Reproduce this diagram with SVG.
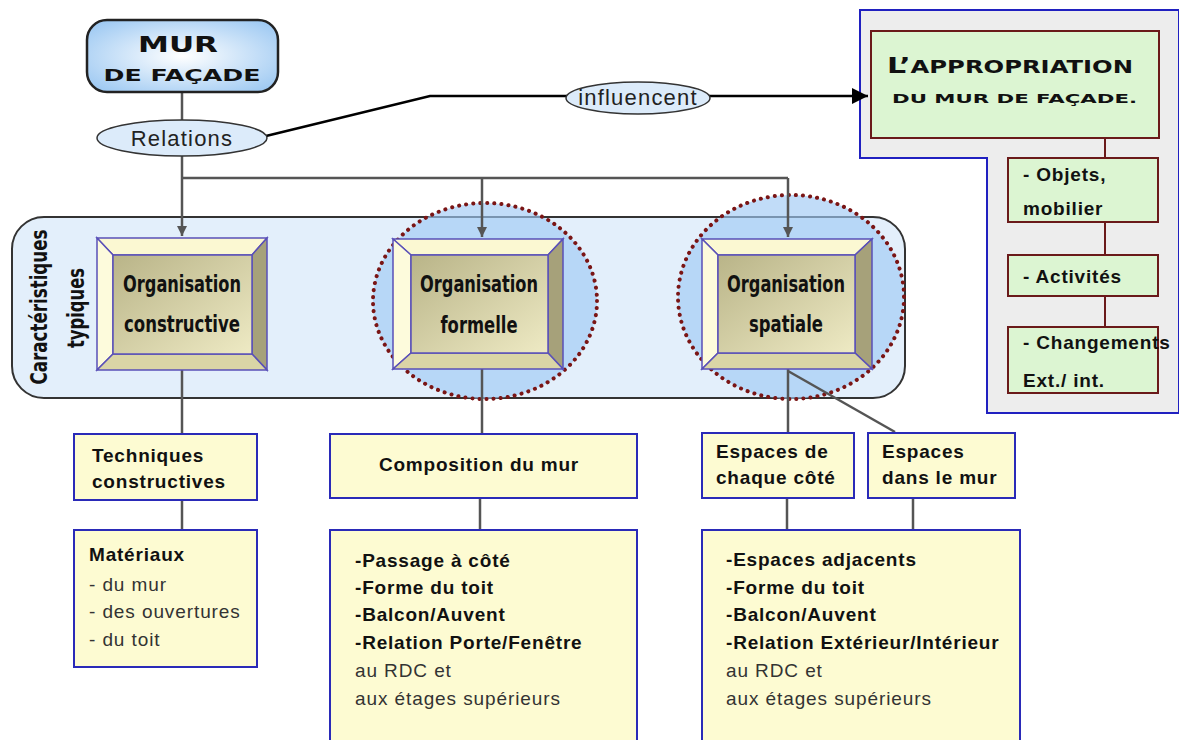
<svg xmlns="http://www.w3.org/2000/svg" width="1179" height="740" viewBox="0 0 1179 740">
<defs>
<radialGradient id="gMur" cx="50%" cy="50%" r="65%">
<stop offset="0" stop-color="#ffffff"/><stop offset="1" stop-color="#9cc8f2"/>
</radialGradient>
<linearGradient id="gFace" x1="0" y1="0" x2="1" y2="1">
<stop offset="0" stop-color="#b9b488"/><stop offset="1" stop-color="#eeeac4"/>
</linearGradient>
<marker id="arrGray" viewBox="0 0 10 10" refX="10" refY="5" markerWidth="24" markerHeight="10" markerUnits="userSpaceOnUse" orient="auto">
<path d="M0,0 L10,5 L0,10 z" fill="#555"/>
</marker>
<marker id="arrBlack" viewBox="0 0 10 10" refX="10" refY="5" markerWidth="18" markerHeight="16" markerUnits="userSpaceOnUse" orient="auto">
<path d="M0,0 L10,5 L0,10 z" fill="#000"/>
</marker>
<style>
.cap{font-family:"DejaVu Sans","Liberation Sans",sans-serif;font-weight:bold;fill:#111}
.lbl{font-family:"Liberation Sans",Arial,sans-serif;fill:#222;font-size:22px;letter-spacing:1.2px}
.b{font-family:"Liberation Sans",Arial,sans-serif;font-weight:bold;fill:#111;font-size:19px;letter-spacing:0.8px}
.n{font-family:"Liberation Sans",Arial,sans-serif;fill:#333;font-size:19px;letter-spacing:0.9px}
.org{font-family:"DejaVu Sans Condensed","Liberation Sans Narrow","Liberation Sans",sans-serif;font-weight:bold;fill:#111;font-size:23px}
.ybox{fill:#fdfbd2;stroke:#2a2ab8;stroke-width:2}
.gbox{fill:#dcf5d2;stroke:#6a1a1a;stroke-width:2}
.bev{stroke:#5a50b8;stroke-width:1.5}
.ln{stroke:#555;stroke-width:2.5;fill:none}
.dr{stroke:#6a1a1a;stroke-width:2;fill:none}
.dot{fill:#9fcaf5;fill-opacity:0.65;stroke:#7a1515;stroke-width:4;stroke-dasharray:0.1 7;stroke-linecap:round}
</style>
</defs>

<g id="panel-appropriation">
<polygon points="860,10 1179,10 1179,413 987,413 987,158 860,158" fill="#ededed" stroke="#2020c0" stroke-width="2"/>
</g>

<g id="caracteristiques">
<rect x="12" y="217" width="893" height="181" rx="32" fill="#e3effb" stroke="#333" stroke-width="2"/>
<text class="org" transform="translate(47,307) rotate(-90)" text-anchor="middle" textLength="155" lengthAdjust="spacingAndGlyphs">Caractéristiques</text>
<text class="org" transform="translate(84,308) rotate(-90)" text-anchor="middle" textLength="80" lengthAdjust="spacingAndGlyphs">typiques</text>
</g>

<g id="highlights">
<ellipse class="dot" cx="485" cy="301" rx="112" ry="98"/>
<ellipse class="dot" cx="791" cy="297" rx="113" ry="102"/>
</g>

<g id="connectors">
<line class="ln" x1="182" y1="92" x2="182" y2="120" stroke="#333"/>
<line class="ln" x1="182" y1="156" x2="182" y2="236" marker-end="url(#arrGray)"/>
<line class="ln" x1="182" y1="178" x2="788" y2="178"/>
<line class="ln" x1="482" y1="178" x2="482" y2="237" marker-end="url(#arrGray)"/>
<line class="ln" x1="788" y1="178" x2="788" y2="237" marker-end="url(#arrGray)"/>
<polyline points="266,136 430,96 868,96" fill="none" stroke="#000" stroke-width="2.5" marker-end="url(#arrBlack)"/>
<line class="ln" x1="182" y1="370" x2="182" y2="433"/>
<line class="ln" x1="482" y1="369" x2="482" y2="434"/>
<line class="ln" x1="788" y1="369" x2="788" y2="432"/>
<line class="ln" x1="788" y1="371" x2="895" y2="432"/>
<line class="ln" x1="182" y1="500" x2="182" y2="530"/>
<line class="ln" x1="480" y1="498" x2="480" y2="530"/>
<line class="ln" x1="787" y1="498" x2="787" y2="530"/>
<line class="ln" x1="913" y1="498" x2="913" y2="530"/>
<line class="dr" x1="1105" y1="138" x2="1105" y2="158"/>
<line class="dr" x1="1105" y1="222" x2="1105" y2="255"/>
<line class="dr" x1="1105" y1="296" x2="1105" y2="327"/>
</g>

<g id="mur">
<rect x="87" y="20" width="191" height="72" rx="20" fill="url(#gMur)" stroke="#222" stroke-width="2.5"/>
<text class="cap" x="178" y="52" text-anchor="middle" font-size="22" textLength="80" lengthAdjust="spacingAndGlyphs">MUR</text>
<text class="cap" x="182" y="81" text-anchor="middle" font-size="16" textLength="157" lengthAdjust="spacingAndGlyphs">DE FAÇADE</text>
</g>

<g id="relations">
<ellipse cx="182" cy="138" rx="85" ry="18" fill="#dcebfa" stroke="#333" stroke-width="1.5"/>
<text class="lbl" x="182" y="146" text-anchor="middle">Relations</text>
</g>

<g id="influencent">
<ellipse cx="638" cy="98" rx="72" ry="16" fill="#dcebfa" stroke="#333" stroke-width="1.5"/>
<text class="lbl" x="638" y="105" text-anchor="middle">influencent</text>
</g>

<g id="appropriation">
<rect x="871" y="31" width="288" height="107" class="gbox" stroke-width="3"/>
<text class="cap" x="887" y="73" font-size="17" textLength="246" lengthAdjust="spacingAndGlyphs"><tspan font-size="21">L’</tspan>APPROPRIATION</text>
<text class="cap" x="892" y="103" font-size="13" textLength="245" lengthAdjust="spacingAndGlyphs">DU MUR DE FAÇADE.</text>
</g>

<g id="objets">
<rect x="1008" y="158" width="150" height="64" class="gbox"/>
<text class="b" x="1023" y="181">- Objets,</text>
<text class="b" x="1023" y="215">mobilier</text>
</g>
<g id="activites">
<rect x="1008" y="255" width="150" height="41" class="gbox"/>
<text class="b" x="1023" y="283">- Activités</text>
</g>
<g id="changements">
<rect x="1008" y="327" width="150" height="66" class="gbox"/>
<text class="b" x="1023" y="349">- Changements</text>
<text class="b" x="1023" y="387">Ext./ int.</text>
</g>

<g id="org-constructive">
<polygon class="bev" points="97,238 267,238 252,255 113,255" fill="#fbf8d2"/>
<polygon class="bev" points="97,238 113,255 113,354 97,370" fill="#fdfbdc"/>
<polygon class="bev" points="267,238 267,370 252,354 252,255" fill="#a6a17a"/>
<polygon class="bev" points="97,370 113,354 252,354 267,370" fill="#dad5a6"/>
<rect class="bev" x="113" y="255" width="139" height="99" fill="url(#gFace)"/>
<text class="org" x="182" y="292" text-anchor="middle" textLength="118" lengthAdjust="spacingAndGlyphs">Organisation</text>
<text class="org" x="182" y="332" text-anchor="middle" textLength="116" lengthAdjust="spacingAndGlyphs">constructive</text>
</g>

<g id="org-formelle">
<polygon class="bev" points="393,239 563,239 548,255 411,255" fill="#fbf8d2"/>
<polygon class="bev" points="393,239 411,255 411,353 393,369" fill="#fdfbdc"/>
<polygon class="bev" points="563,239 563,369 548,353 548,255" fill="#a6a17a"/>
<polygon class="bev" points="393,369 411,353 548,353 563,369" fill="#dad5a6"/>
<rect class="bev" x="411" y="255" width="137" height="98" fill="url(#gFace)"/>
<text class="org" x="479" y="292" text-anchor="middle" textLength="118" lengthAdjust="spacingAndGlyphs">Organisation</text>
<text class="org" x="479" y="333" text-anchor="middle" textLength="77" lengthAdjust="spacingAndGlyphs">formelle</text>
</g>

<g id="org-spatiale">
<polygon class="bev" points="702,239 872,239 855,255 718,255" fill="#fbf8d2"/>
<polygon class="bev" points="702,239 718,255 718,353 702,369" fill="#fdfbdc"/>
<polygon class="bev" points="872,239 872,369 855,353 855,255" fill="#a6a17a"/>
<polygon class="bev" points="702,369 718,353 855,353 872,369" fill="#dad5a6"/>
<rect class="bev" x="718" y="255" width="137" height="98" fill="url(#gFace)"/>
<text class="org" x="786" y="292" text-anchor="middle" textLength="118" lengthAdjust="spacingAndGlyphs">Organisation</text>
<text class="org" x="786" y="332" text-anchor="middle" textLength="74" lengthAdjust="spacingAndGlyphs">spatiale</text>
</g>

<g id="techniques">
<rect class="ybox" x="74" y="434" width="183" height="66"/>
<text class="b" x="92" y="462">Techniques</text>
<text class="b" x="92" y="488">constructives</text>
</g>
<g id="materiaux">
<rect class="ybox" x="74" y="530" width="183" height="137"/>
<text class="b" x="89" y="561">Matériaux</text>
<text class="n" x="89" y="591">- du mur</text>
<text class="n" x="89" y="618">- des ouvertures</text>
<text class="n" x="89" y="646">- du toit</text>
</g>

<g id="composition">
<rect class="ybox" x="330" y="434" width="307" height="64"/>
<text class="b" x="479" y="471" text-anchor="middle">Composition du mur</text>
</g>
<g id="composition-details">
<rect class="ybox" x="330" y="530" width="307" height="220"/>
<text class="b" x="355" y="567">-Passage à côté</text>
<text class="b" x="355" y="594">-Forme du toit</text>
<text class="b" x="355" y="621">-Balcon/Auvent</text>
<text class="b" x="355" y="649">-Relation Porte/Fenêtre</text>
<text class="n" x="355" y="677">au RDC et</text>
<text class="n" x="355" y="705">aux étages supérieurs</text>
</g>

<g id="espaces-cote">
<rect class="ybox" x="702" y="433" width="152" height="65"/>
<text class="b" x="716" y="458">Espaces de</text>
<text class="b" x="716" y="484">chaque côté</text>
</g>
<g id="espaces-mur">
<rect class="ybox" x="868" y="433" width="147" height="65"/>
<text class="b" x="882" y="458">Espaces</text>
<text class="b" x="882" y="484">dans le mur</text>
</g>
<g id="espaces-details">
<rect class="ybox" x="702" y="530" width="318" height="220"/>
<text class="b" x="726" y="566">-Espaces adjacents</text>
<text class="b" x="726" y="594">-Forme du toit</text>
<text class="b" x="726" y="621">-Balcon/Auvent</text>
<text class="b" x="726" y="649">-Relation Extérieur/Intérieur</text>
<text class="n" x="726" y="677">au RDC et</text>
<text class="n" x="726" y="705">aux étages supérieurs</text>
</g>
</svg>
